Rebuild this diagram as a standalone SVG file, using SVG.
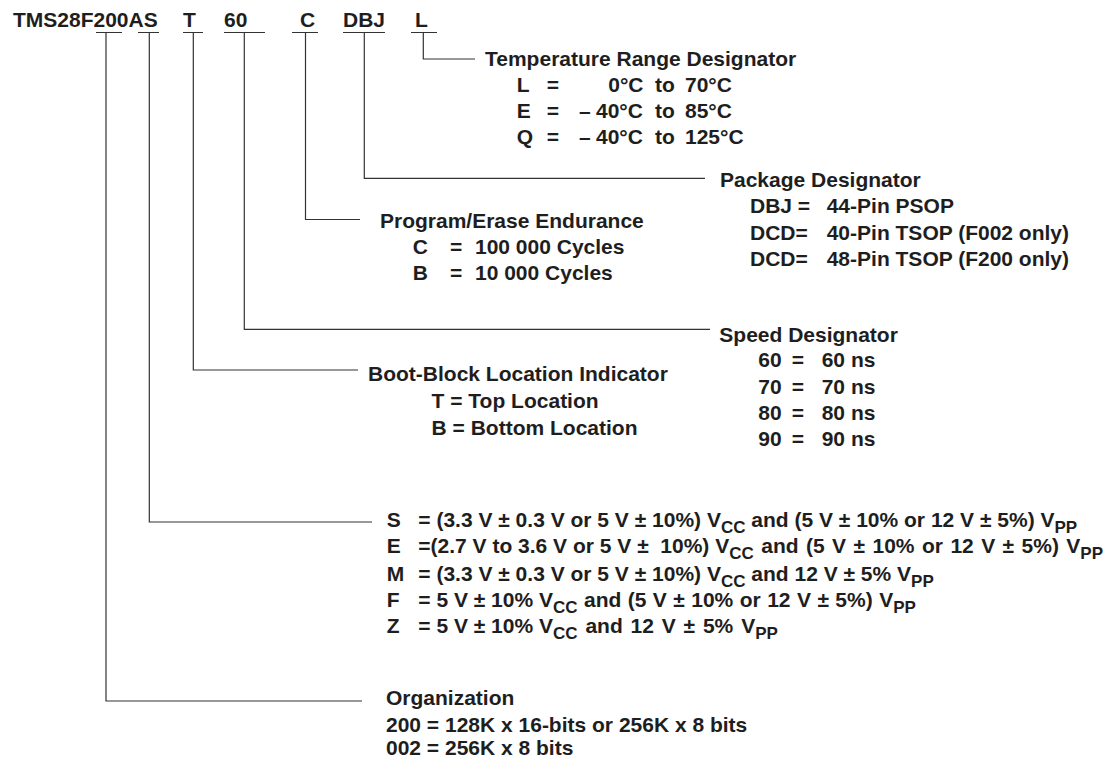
<svg xmlns="http://www.w3.org/2000/svg" width="1105" height="759" viewBox="0 0 1105 759">
<style>
text{font-family:"Liberation Sans",Arial,sans-serif;font-weight:bold;font-size:21px;fill:#1e1e1e}
.sub{font-size:17px}
.ln{fill:none;stroke:#333;stroke-width:1.2}
</style>
<rect width="1105" height="759" fill="#fff"/>
<g id="part-number">
<text x="13" y="27">TMS28F200AS</text>
<text x="183" y="27">T</text>
<text x="224" y="27">60</text>
<text x="300" y="27">C</text>
<text x="343" y="27">DBJ</text>
<text x="415" y="27">L</text>
</g>
<g id="connectors" class="ln">
<path class="ln" d="M96,32.5H122M138,32.5H159M183,32.5H203M224,32.5H265M292,32.5H318M343,32.5H385M411,32.5H437"/>
<path class="ln" d="M423.3,32.5V59H475"/>
<path class="ln" d="M364.3,32.5V178.3H705"/>
<path class="ln" d="M305.5,32.5V219.5H360"/>
<path class="ln" d="M244.3,32.5V329.3H710"/>
<path class="ln" d="M193.3,32.5V370H358"/>
<path class="ln" d="M149.3,32.5V522H372"/>
<path class="ln" d="M106,32.5V701H362"/>
</g>
<g id="temperature">
<text x="485" y="65.5">Temperature Range Designator</text>
<text y="92.3"><tspan x="516.7">L</tspan><tspan x="546.7">=</tspan><tspan x="608.3">0°C</tspan><tspan x="655">to</tspan><tspan x="685">70°C</tspan></text>
<text y="118.3"><tspan x="516.7">E</tspan><tspan x="546.7">=</tspan><tspan x="579">–</tspan><tspan x="596">40°C</tspan><tspan x="655">to</tspan><tspan x="685">85°C</tspan></text>
<text y="144.3"><tspan x="516.7">Q</tspan><tspan x="546.7">=</tspan><tspan x="579">–</tspan><tspan x="596">40°C</tspan><tspan x="655">to</tspan><tspan x="685">125°C</tspan></text>
</g>
<g id="package">
<text x="720" y="186.7">Package Designator</text>
<text y="213.3"><tspan x="750">DBJ =</tspan><tspan x="826.7">44-Pin PSOP</tspan></text>
<text y="240"><tspan x="750">DCD=</tspan><tspan x="826.7">40-Pin TSOP (F002 only)</tspan></text>
<text y="266.3"><tspan x="750">DCD=</tspan><tspan x="826.7">48-Pin TSOP (F200 only)</tspan></text>
</g>
<g id="endurance">
<text x="380" y="228.3">Program/Erase Endurance</text>
<text y="254.3"><tspan x="412.7">C</tspan><tspan x="450">=</tspan><tspan x="475">100 000 Cycles</tspan></text>
<text y="280.3"><tspan x="412.7">B</tspan><tspan x="450">=</tspan><tspan x="475">10 000 Cycles</tspan></text>
</g>
<g id="speed">
<text x="719.3" y="341.7">Speed Designator</text>
<text y="367.3"><tspan x="758.3">60</tspan><tspan x="791.7">=</tspan><tspan x="821.7">60 ns</tspan></text>
<text y="393.5"><tspan x="758.3">70</tspan><tspan x="791.7">=</tspan><tspan x="821.7">70 ns</tspan></text>
<text y="420"><tspan x="758.3">80</tspan><tspan x="791.7">=</tspan><tspan x="821.7">80 ns</tspan></text>
<text y="446"><tspan x="758.3">90</tspan><tspan x="791.7">=</tspan><tspan x="821.7">90 ns</tspan></text>
</g>
<g id="boot-block">
<text x="368" y="381">Boot-Block Location Indicator</text>
<text x="431.6" y="408.3">T = Top Location</text>
<text x="431.6" y="435">B = Bottom Location</text>
</g>
<g id="voltage">
<text y="527.3"><tspan x="386.7">S</tspan><tspan x="418.3">= (3.3 V ± 0.3 V or 5 V ± 10%) V</tspan><tspan class="sub" dy="6">CC</tspan><tspan dy="-6"> and (5 V ± 10% or 12 V ± 5%) V</tspan><tspan class="sub" dy="6">PP</tspan></text>
<text y="553.3" xml:space="preserve"><tspan x="386.7">E</tspan><tspan x="418.3">=(2.7 V to 3.6 V or 5 V ±  10%) V</tspan><tspan class="sub" dy="6">CC</tspan><tspan dy="-6" word-spacing="1.6"> and (5 V ± 10% or 12 V ± 5%) V</tspan><tspan class="sub" dy="6">PP</tspan></text>
<text y="580.5"><tspan x="386.7">M</tspan><tspan x="418.3">= (3.3 V ± 0.3 V or 5 V ± 10%) V</tspan><tspan class="sub" dy="6">CC</tspan><tspan dy="-6"> and 12 V ± 5% V</tspan><tspan class="sub" dy="6">PP</tspan></text>
<text y="606.7"><tspan x="386.7">F</tspan><tspan x="418.3">= 5 V ± 10% V</tspan><tspan class="sub" dy="6">CC</tspan><tspan dy="-6" word-spacing="0.6"> and (5 V ± 10% or 12 V ± 5%) V</tspan><tspan class="sub" dy="6">PP</tspan></text>
<text y="632.7"><tspan x="386.7">Z</tspan><tspan x="418.3">= 5 V ± 10% V</tspan><tspan class="sub" dy="6">CC</tspan><tspan dy="-6" word-spacing="2"> and 12 V ± 5% V</tspan><tspan class="sub" dy="6">PP</tspan></text>
</g>
<g id="organization">
<text x="386" y="705">Organization</text>
<text x="386" y="731.7">200 = 128K x 16-bits or 256K x 8 bits</text>
<text x="386" y="755">002 = 256K x 8 bits</text>
</g>
</svg>
